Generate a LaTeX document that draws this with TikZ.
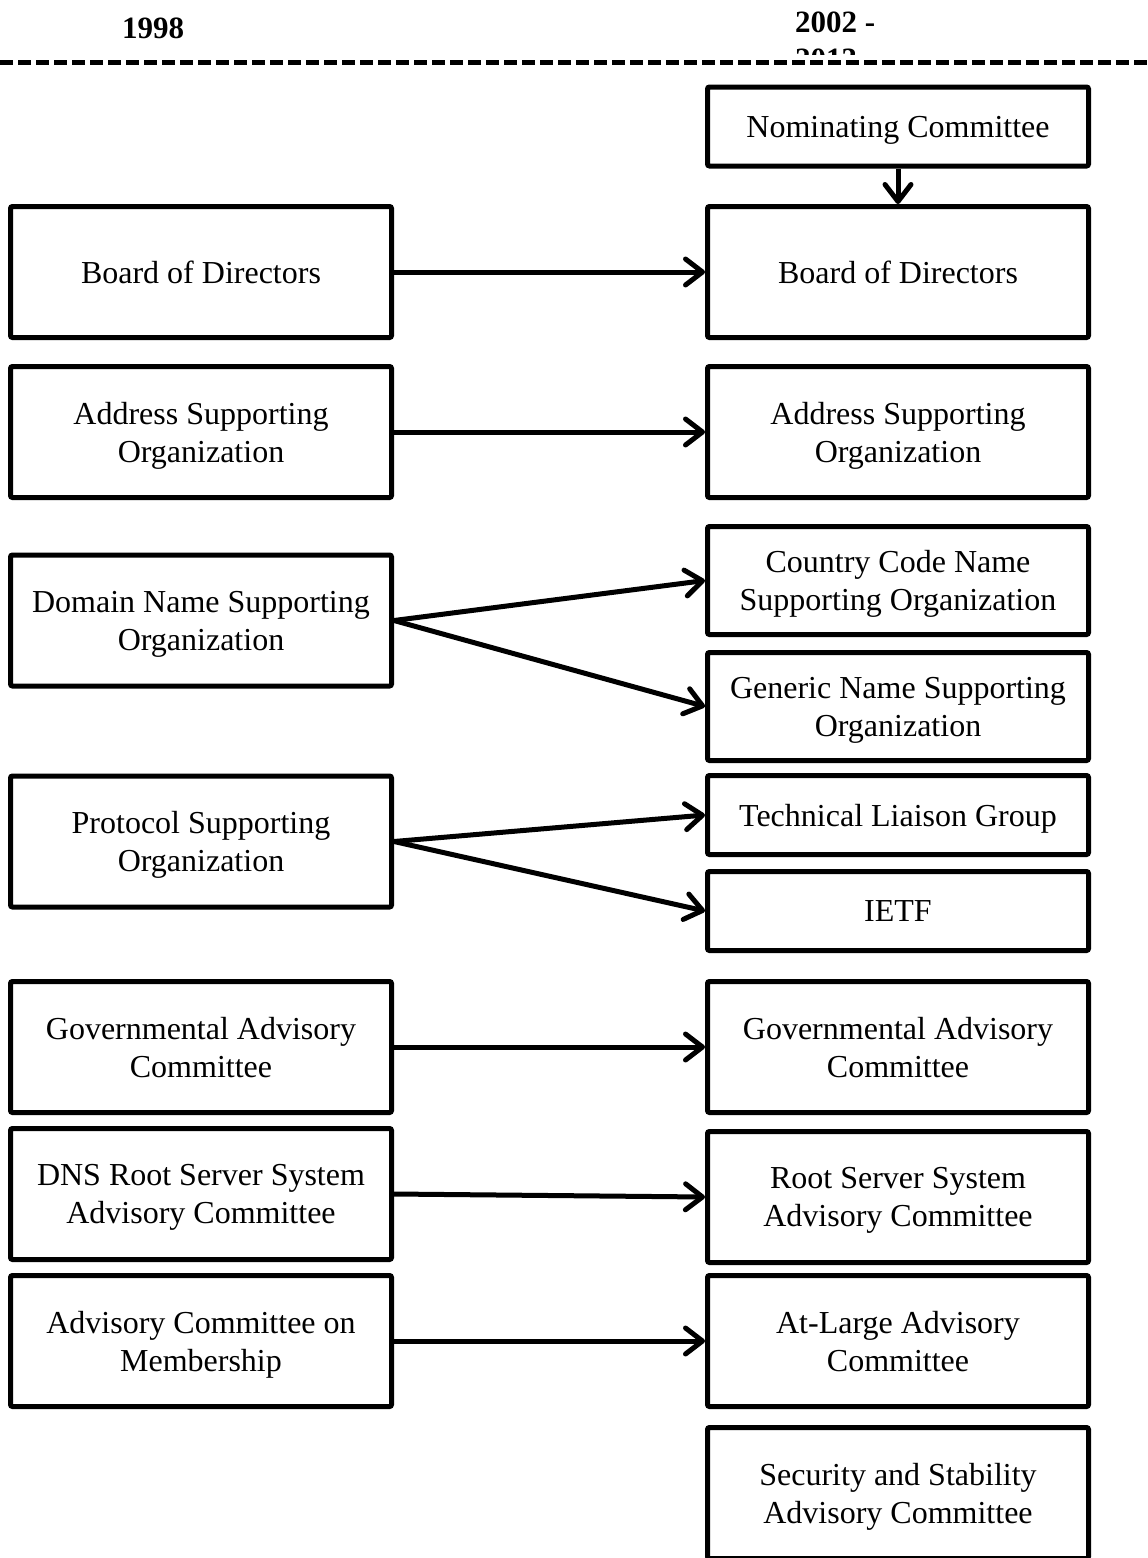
\documentclass[tikz,border=0pt]{standalone}
\usepackage{fontspec}
\setmainfont{Liberation Serif}
\usetikzlibrary{arrows.meta}

\begin{document}
\begin{tikzpicture}[x=1pt,y=-1pt]
\tikzstyle{every node}+=[font=\fontsize{32}{38}\selectfont]
\tikzstyle{year}=[font=\fontsize{31}{37}\selectfont\bfseries,inner sep=0pt]
\tikzstyle{org}=[draw=black,line width=5pt,rounded corners=2pt,minimum width=381pt,align=center,inner sep=0pt,text depth=0pt]
\tikzstyle{tall}=[org,minimum height=131pt]
\tikzstyle{mid}=[org,minimum height=108pt]
\tikzstyle{short}=[org,minimum height=79pt]
\tikzstyle{link}=[line width=5pt,line join=round,-{Straight Barb[length=17pt,width=26pt,round]}]
\useasboundingbox (0,0) rectangle (1148,1558);
\node[year,anchor=base] (y98) at (153,38) {1998};
\node[year,anchor=base west] (y02) at (795,32) {2002 -};
\begin{scope}
\clip (780,0) rectangle (900,54);
\node[year,anchor=base west] (y13) at (795,69) {2013};
\end{scope}
\draw[line width=5pt,dash pattern=on 13pt off 5pt] (0,62.5) -- (1148,62.5);
\node[short] (nomR) at (898,126.5) {Nominating Committee};
\node[tall] (bodL) at (201,272) {Board of Directors};
\node[tall] (bodR) at (898,272) {Board of Directors};
\node[tall] (asoL) at (201,432) {Address Supporting\\Organization};
\node[tall] (asoR) at (898,432) {Address Supporting\\Organization};
\node[tall] (dnsoL) at (201,620.5) {Domain Name Supporting\\Organization};
\node[mid] (ccnsoR) at (898,580.5) {Country Code Name\\Supporting Organization};
\node[mid] (gnsoR) at (898,706.5) {Generic Name Supporting\\Organization};
\node[tall] (psoL) at (201,841.5) {Protocol Supporting\\Organization};
\node[short] (tlgR) at (898,815) {Technical Liaison Group};
\node[short] (ietfR) at (898,911) {IETF};
\node[tall] (gacL) at (201,1047) {Governmental Advisory\\Committee};
\node[tall] (gacR) at (898,1047) {Governmental Advisory\\Committee};
\node[tall] (rootL) at (201,1194) {DNS Root Server System\\Advisory Committee};
\node[tall] (rssacR) at (898,1197) {Root Server System\\Advisory Committee};
\node[tall] (acmL) at (201,1341) {Advisory Committee on\\Membership};
\node[tall] (alacR) at (898,1341) {At-Large Advisory\\Committee};
\node[tall] (ssacR) at (898,1493) {Security and Stability\\Advisory Committee};
\draw[link] (nomR) -- (bodR);
\draw[link] (bodL.east) -- (bodR.west);
\draw[link] (asoL.east) -- (asoR.west);
\draw[link] (dnsoL.east) -- (ccnsoR.west);
\draw[link] (dnsoL.east) -- (gnsoR.west);
\draw[link] (psoL.east) -- (tlgR.west);
\draw[link] (psoL.east) -- (ietfR.west);
\draw[link] (gacL.east) -- (gacR.west);
\draw[link] (rootL.east) -- (rssacR.west);
\draw[link] (acmL.east) -- (alacR.west);
\end{tikzpicture}
\end{document}
